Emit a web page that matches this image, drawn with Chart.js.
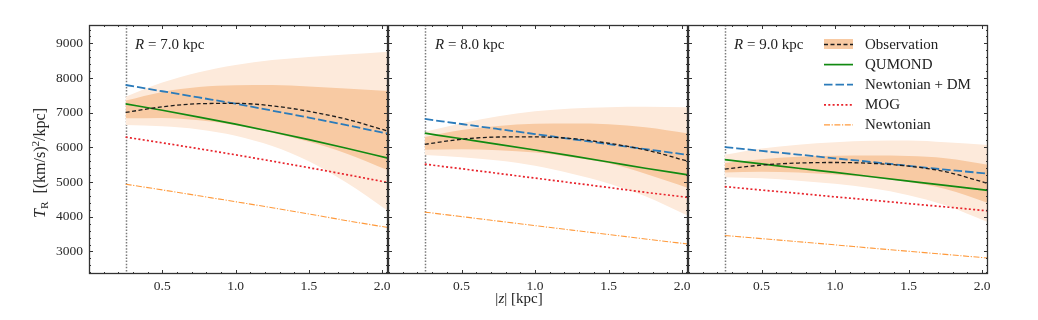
<!DOCTYPE html>
<html>
<head>
<meta charset="utf-8">
<script src="https://cdn.jsdelivr.net/npm/chart.js@4.4.1/dist/chart.umd.min.js"></script>
<style>
    body { margin: 0; background: #fff; }
    #wrap { position: relative; width: 1038px; height: 320px; font-family: "Liberation Serif", serif; color: #222; }
    .panel { position: absolute; top: 0; height: 320px; }
    .tag { position: absolute; top: 36px; font-size: 15px; white-space: nowrap; }
    #ytitle { position: absolute; left: 40px; top: 163px; transform: translate(-50%, -50%) rotate(-90deg); white-space: nowrap; font-size: 16px; }
    #xtitle { position: absolute; left: 519px; top: 298px; transform: translate(-50%, -50%); white-space: nowrap; font-size: 15px; }
    sub, sup { font-size: 0.7em; line-height: 0; }
    sub { vertical-align: -0.3em; }
    sup { vertical-align: 0.5em; }
</style>
</head>
<body>
<div id="wrap">
    <div class="panel" style="left:0;width:400px"><canvas id="c0"></canvas></div>
    <div class="panel" style="left:376px;width:324px"><canvas id="c1"></canvas></div>
    <div class="panel" style="left:676px;width:362px"><canvas id="c2"></canvas></div>
    <div class="tag" style="left:135px"><i>R</i> = 7.0 kpc</div>
    <div class="tag" style="left:435px"><i>R</i> = 8.0 kpc</div>
    <div class="tag" style="left:734px"><i>R</i> = 9.0 kpc</div>
    <div id="ytitle"><i>T</i><sub>R</sub>&nbsp; [(km/s)<sup>2</sup>/kpc]</div>
    <div id="xtitle">|<i>z</i>| [kpc]</div>
</div>
<script>
    // |z| sampling (kpc)
    var zKpc = [0.25, 0.5, 0.75, 1.0, 1.25, 1.5, 1.75, 2.04];
    var zCut = 0.25;
    var xTicks = [0.5, 1.0, 1.5, 2.0];
    var yTicks = [3000, 4000, 5000, 6000, 7000, 8000, 9000];

    // R = 7.0 kpc
    var obsR7 = [7010, 7170, 7260, 7270, 7200, 7040, 6820, 6470];
    var obsDarkHiR7 = [7350, 7600, 7740, 7790, 7800, 7760, 7700, 7630];
    var obsDarkLoR7 = [6840, 6850, 6780, 6640, 6420, 6160, 5830, 5340];
    var obsLightHiR7 = [7460, 7870, 8170, 8380, 8520, 8610, 8680, 8760];
    var obsLightLoR7 = [6650, 6610, 6520, 6340, 6040, 5600, 5000, 4170];
    var qumondR7 = [7255, 7071, 6876, 6670, 6452, 6223, 5983, 5691];
    var newtDmR7 = [7800, 7620, 7440, 7260, 7060, 6860, 6650, 6395];
    var mogR7 = [6296, 6132, 5962, 5786, 5604, 5416, 5221, 4988];
    var newtR7 = [4940, 4775, 4605, 4435, 4260, 4080, 3895, 3690];

    // R = 8.0 kpc
    var obsR8 = [6090, 6235, 6300, 6305, 6255, 6120, 5930, 5600];
    var obsDarkHiR8 = [6300, 6500, 6620, 6680, 6690, 6670, 6580, 6400];
    var obsDarkLoR8 = [5930, 5950, 5920, 5850, 5720, 5540, 5240, 4830];
    var obsLightHiR8 = [6450, 6700, 6900, 7040, 7120, 7160, 7170, 7160];
    var obsLightLoR8 = [5780, 5720, 5620, 5470, 5240, 4960, 4590, 4030];
    var qumondR8 = [6410, 6250, 6090, 5925, 5755, 5580, 5400, 5210];
    var newtDmR8 = [6820, 6675, 6530, 6385, 6240, 6095, 5950, 5786];
    var mogR8 = [5517, 5385, 5250, 5115, 4980, 4845, 4705, 4560];
    var newtR8 = [4135, 4005, 3875, 3745, 3615, 3490, 3360, 3215];

    // R = 9.0 kpc
    var obsR9 = [5375, 5490, 5550, 5565, 5540, 5460, 5300, 4960];
    var obsDarkHiR9 = [5550, 5660, 5730, 5760, 5765, 5750, 5690, 5500];
    var obsDarkLoR9 = [5280, 5300, 5280, 5220, 5130, 5000, 4800, 4400];
    var obsLightHiR9 = [5790, 5970, 6080, 6150, 6190, 6200, 6150, 6070];
    var obsLightLoR9 = [5140, 5110, 5040, 4950, 4820, 4620, 4330, 3840];
    var qumondR9 = [5650, 5525, 5400, 5280, 5155, 5030, 4905, 4760];
    var newtDmR9 = [6010, 5900, 5795, 5685, 5580, 5470, 5360, 5245];
    var mogR9 = [4870, 4770, 4675, 4575, 4480, 4380, 4285, 4170];
    var newtR9 = [3462, 3370, 3280, 3190, 3095, 3005, 2915, 2810];

    var LIGHT_BAND = '#fdeadb';
    var DARK_BAND = '#f8caa3';
    var TEXT_FONT = '"Liberation Serif", serif';

    function pts(vals) {
        return zKpc.map(function (z, i) { return {x: z, y: vals[i]}; });
    }

    function band(vals, color, fill, order) {
        return {
            label: '', data: pts(vals), fill: fill, backgroundColor: color,
            borderColor: 'rgba(0,0,0,0)', borderWidth: 0, order: order, legend: false
        };
    }

    function line(name, vals, color, width, dash, legendBand) {
        return {
            label: name, data: pts(vals), fill: false, borderColor: color,
            borderWidth: width, borderDash: dash, order: 0, legend: true, legendBand: legendBand
        };
    }

    function buildDatasets(obs, darkHi, darkLo, lightHi, lightLo, qumond, newtDm, mog, newt) {
        return [
            band(lightHi, LIGHT_BAND, '+1', 3),
            band(lightLo, LIGHT_BAND, false, 3),
            band(darkHi, DARK_BAND, '+1', 2),
            band(darkLo, DARK_BAND, false, 2),
            line('Observation', obs, '#1c1c1c', 1.3, [4, 2.5], DARK_BAND),
            line('QUMOND', qumond, '#118a11', 1.7, []),
            line('Newtonian + DM', newtDm, '#2b7bba', 1.8, [8.5, 3]),
            line('MOG', mog, '#e8232b', 1.7, [2, 2.3]),
            line('Newtonian', newt, '#ff9a3c', 1.1, [6, 1.6, 1.2, 1.6])
        ];
    }

    // frame, inward ticks and the |z| cut line
    var framePlugin = {
        id: 'frame',
        beforeDatasetsDraw: function (chart) {
            var ctx = chart.ctx, a = chart.chartArea;
            var px = Math.round(chart.scales.x.getPixelForValue(zCut)) + 0.5;
            ctx.save();
            ctx.strokeStyle = '#7a7a7a';
            ctx.lineWidth = 1.5;
            ctx.setLineDash([1.5, 1.6]);
            ctx.beginPath();
            ctx.moveTo(px, a.top);
            ctx.lineTo(px, a.bottom);
            ctx.stroke();
            ctx.restore();
        },
        afterDraw: function (chart) {
            var ctx = chart.ctx, a = chart.chartArea;
            var xs = chart.scales.x, ys = chart.scales.y;
            ctx.save();
            ctx.strokeStyle = '#333';
            ctx.lineWidth = 1.3;
            ctx.strokeRect(a.left + 0.5, a.top + 0.5, a.right - a.left - 1, a.bottom - a.top - 1);
            ctx.lineWidth = 1;
            ctx.beginPath();
            var k, v, p, len;
            for (k = 1; k <= 20; k++) {
                v = k / 10;
                if (v > xs.max) continue;
                len = (k % 5 === 0) ? 4 : 2;
                p = Math.round(xs.getPixelForValue(v)) + 0.5;
                ctx.moveTo(p, a.bottom); ctx.lineTo(p, a.bottom - len);
                ctx.moveTo(p, a.top); ctx.lineTo(p, a.top + len);
            }
            for (v = 2400; v <= 9400; v += 200) {
                len = (v % 1000 === 0) ? 4 : 2;
                p = Math.round(ys.getPixelForValue(v)) + 0.5;
                ctx.moveTo(a.left, p); ctx.lineTo(a.left + len, p);
                ctx.moveTo(a.right, p); ctx.lineTo(a.right - len, p);
            }
            ctx.stroke();
            ctx.restore();
        }
    };

    var legendPlugin = {
        id: 'sideLegend',
        afterDraw: function (chart) {
            var ctx = chart.ctx, a = chart.chartArea;
            var x0 = a.left + 136, y0 = a.top + 19, row = 20.1, w = 29;
            ctx.save();
            ctx.font = '15px ' + TEXT_FONT;
            ctx.textBaseline = 'middle';
            ctx.fillStyle = '#222';
            var items = chart.data.datasets.filter(function (d) { return d.legend; });
            items.forEach(function (d, i) {
                var y = y0 + i * row;
                if (d.legendBand) {
                    ctx.fillStyle = d.legendBand;
                    ctx.fillRect(x0, y - 5, w, 10);
                }
                ctx.strokeStyle = d.borderColor;
                ctx.lineWidth = d.borderWidth;
                ctx.setLineDash(d.borderDash);
                ctx.beginPath();
                ctx.moveTo(x0, y + 0.5);
                ctx.lineTo(x0 + w, y + 0.5);
                ctx.stroke();
                ctx.fillStyle = '#222';
                ctx.fillText(d.label, x0 + 41, y + 1);
            });
            ctx.restore();
        }
    };

    // each panel canvas overhangs its plot box by 12px so edge tick labels are not cut
    function renderPanel(canvasId, datasets, index) {
        var first = index === 0;
        var last = index === 2;
        return new Chart(document.getElementById(canvasId), {
            type: 'line',
            data: {datasets: datasets},
            plugins: last ? [framePlugin, legendPlugin] : [framePlugin],
            options: {
                responsive: true,
                maintainAspectRatio: false,
                animation: false,
                devicePixelRatio: 1,
                events: [],
                layout: {padding: {top: 25, bottom: 0, left: first ? 0 : 12, right: last ? 50 : 12}},
                elements: {
                    point: {radius: 0},
                    line: {cubicInterpolationMode: 'monotone', borderCapStyle: 'butt'}
                },
                plugins: {legend: {display: false}, tooltip: {enabled: false}},
                scales: {
                    x: {
                        type: 'linear', min: 0, max: 2.04,
                        grid: {display: false, drawTicks: false},
                        border: {display: false},
                        afterBuildTicks: function (s) { s.ticks = xTicks.map(function (v) { return {value: v}; }); },
                        afterFit: function (s) {
                            s.height = 46;
                            s.paddingLeft = 0;
                            s.paddingRight = 0;
                        },
                        ticks: {
                            padding: 4, maxRotation: 0, autoSkip: false, color: '#2a2a2a',
                            font: {family: TEXT_FONT, size: 13.5},
                            callback: function (v) { return Number(v).toFixed(1); }
                        }
                    },
                    y: {
                        type: 'linear', min: 2350, max: 9530,
                        grid: {display: false, drawTicks: false},
                        border: {display: false},
                        afterBuildTicks: function (s) { s.ticks = yTicks.map(function (v) { return {value: v}; }); },
                        afterFit: function (s) {
                            s.width = first ? 89 : 0;
                            s.paddingTop = 0;
                            s.paddingBottom = 0;
                        },
                        ticks: {
                            display: first, padding: 6, color: '#2a2a2a',
                            font: {family: TEXT_FONT, size: 13.5},
                            callback: function (v) { return String(v); }
                        }
                    }
                }
            }
        });
    }

    renderPanel('c0', buildDatasets(obsR7, obsDarkHiR7, obsDarkLoR7, obsLightHiR7, obsLightLoR7, qumondR7, newtDmR7, mogR7, newtR7), 0);
    renderPanel('c1', buildDatasets(obsR8, obsDarkHiR8, obsDarkLoR8, obsLightHiR8, obsLightLoR8, qumondR8, newtDmR8, mogR8, newtR8), 1);
    renderPanel('c2', buildDatasets(obsR9, obsDarkHiR9, obsDarkLoR9, obsLightHiR9, obsLightLoR9, qumondR9, newtDmR9, mogR9, newtR9), 2);
</script>
</body>
</html>
